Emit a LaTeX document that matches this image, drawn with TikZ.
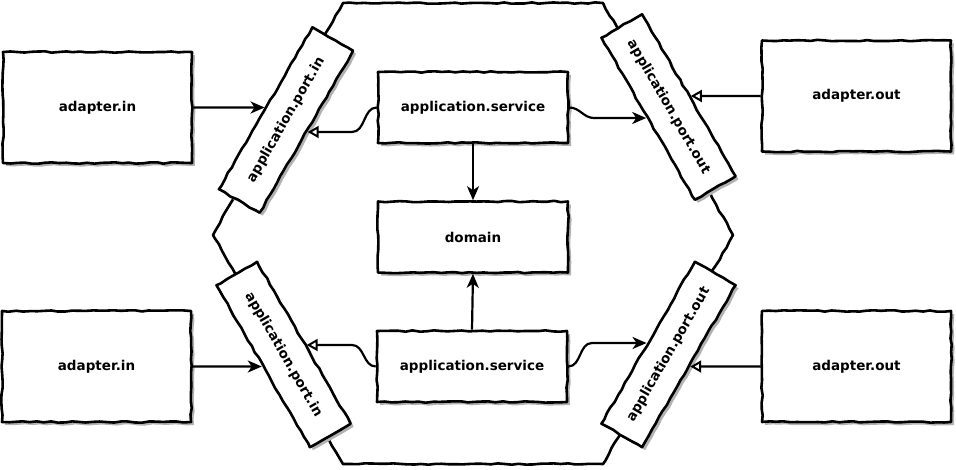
\documentclass[tikz,border=0pt]{standalone}
\usepackage{fontspec}
\setmainfont{DejaVu Sans}
\usetikzlibrary{arrows.meta,shadows,decorations.pathmorphing,calc}
\begin{document}
\begin{tikzpicture}[x=1pt,y=-1pt,
  sketch/.style={decorate, decoration={random steps, segment length=7pt, amplitude=0.7pt}},
  box/.style={draw, line width=2.6pt, fill=white, sketch, line join=round,
    drop shadow={shadow xshift=3pt, shadow yshift=-3pt, fill=black!30, opacity=1},
    inner sep=0pt, font=\bfseries\fontsize{13.5}{15}\selectfont},
  adapter/.style={box, minimum width=189pt, minimum height=111pt},
  innerbox/.style={box, minimum width=190pt, minimum height=71pt},
  port/.style={box, minimum width=187pt, minimum height=47pt},
  conn/.style={line width=2.2pt},
  filled/.style={conn, -{Stealth[length=14pt,width=12pt,inset=4pt]}},
  hollow/.style={conn, -{Triangle[open,length=11pt,width=12pt,line width=2pt]}}]
\useasboundingbox (0,0) rectangle (956,470);
% hexagon
\draw[line width=2.6pt, sketch, line join=round] (343,3) -- (603,3) -- (733,235) -- (603,464) -- (343,464) -- (213,235) -- cycle;
% nodes
\node[adapter] (ain1) at (97.5,107.5) {adapter.in};
\node[adapter] (ain2) at (96.5,366.5) {adapter.in};
\node[adapter] (aout1) at (856.5,96) {adapter.out};
\node[adapter] (aout2) at (856.5,366.5) {adapter.out};
\node[innerbox] (sv1) at (473,107.5) {application.service};
\node[innerbox] (dom) at (473,237) {domain};
\node[innerbox] (sv2) at (472,366.5) {application.service};
\node[port, rotate=60] (pin1) at (286,120) {application.port.in};
\node[port, rotate=-60] (pout1) at (668.5,107) {application.port.out};
\node[port, rotate=-60] (pin2) at (283.5,354.5) {application.port.in};
\node[port, rotate=60] (pout2) at (668.5,354.5) {application.port.out};
% guide coordinates
\coordinate (g1a) at (250,132); \coordinate (g1b) at (352,132);
\coordinate (g2a) at (594,118); \coordinate (g2b) at (720,118);
\coordinate (g3a) at (352,345); \coordinate (g3b) at (250,345);
\coordinate (g4a) at (592,343); \coordinate (g4b) at (720,343);
\coordinate (t1) at (intersection of ain1.east--ain1.west and pin1.north west--pin1.north east);
\coordinate (t2) at (intersection of g1a--g1b and pin1.south west--pin1.south east);
\coordinate (t3) at (intersection of g2a--g2b and pout1.south west--pout1.south east);
\coordinate (t4) at (intersection of g3a--g3b and pin2.north west--pin2.north east);
\coordinate (t5) at (intersection of g4a--g4b and pout2.north west--pout2.north east);
\coordinate (t6) at (intersection of aout1.west--aout1.east and pout1.north west--pout1.north east);
\coordinate (t7) at (intersection of aout2.west--aout2.east and pout2.south west--pout2.south east);
\coordinate (t8) at (intersection of ain2.east--ain2.west and pin2.south west--pin2.south east);
% connectors
\draw[filled] (ain1.east) -- (t1);
\draw[filled] (ain2.east) -- (t8);
\draw[hollow] (aout1.west) -- (t6);
\draw[hollow] (aout2.west) -- (t7);
\draw[hollow] (sv1.west) to[out=180,in=0] (g1b) -- (t2);
\draw[filled] (sv1.east) to[out=0,in=180] (g2a) -- (t3);
\draw[hollow] (sv2.west) to[out=180,in=0] (g3a) -- (t4);
\draw[filled] (sv2.east) to[out=0,in=180] (g4a) -- (t5);
\draw[filled] (sv1.south) -- (dom.north);
\draw[filled] (sv2.north) -- (dom.south);
\end{tikzpicture}
\end{document}
